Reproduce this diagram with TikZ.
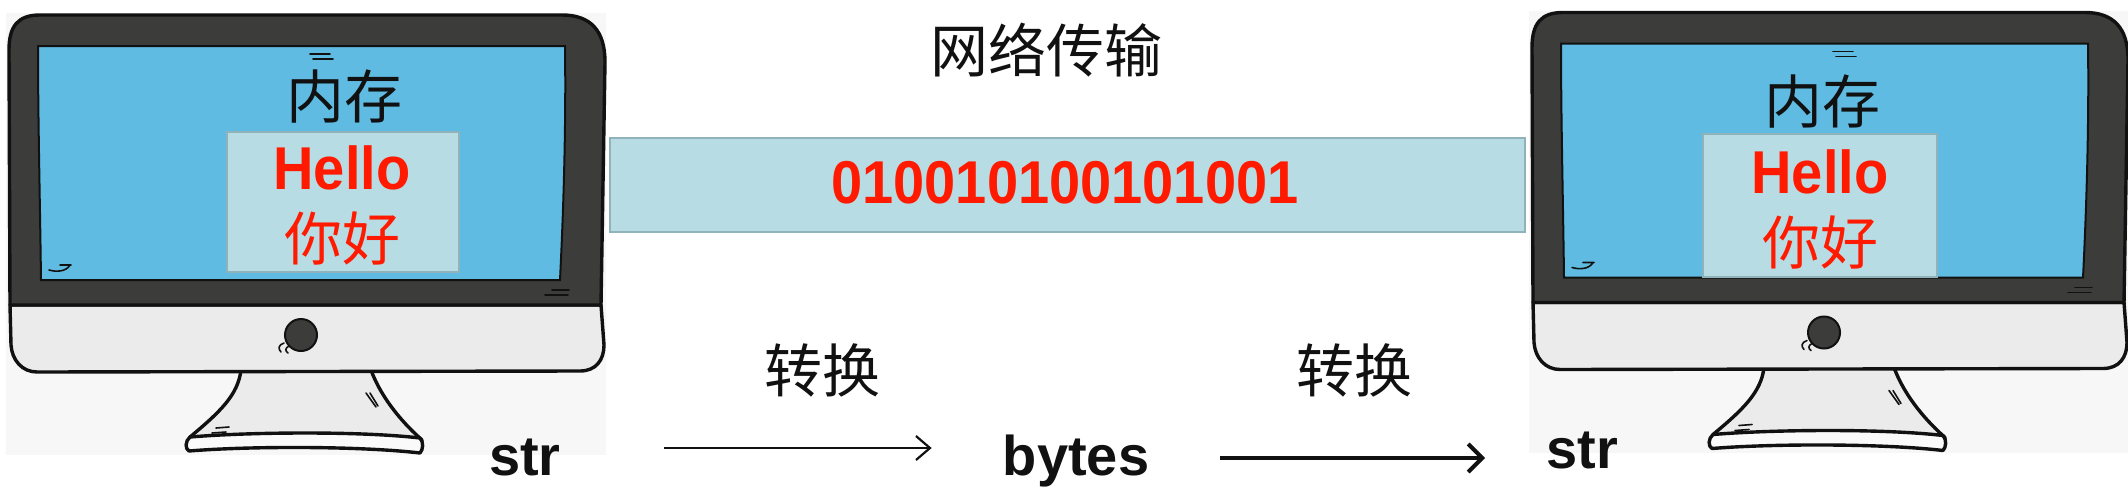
\documentclass[tikz,border=0pt]{standalone}
\usepackage{fontspec}
\setmainfont{Liberation Sans}
\newfontfamily\cjk{Noto Sans CJK SC}
\usetikzlibrary{arrows.meta}
\definecolor{bezel}{HTML}{3C3C3B}
\definecolor{chin}{HTML}{EBEBEB}
\definecolor{screenblue}{HTML}{5FBBE2}
\definecolor{paper}{HTML}{F7F7F7}
\definecolor{boxfill}{HTML}{B7DCE4}
\definecolor{boxline}{HTML}{8FB3B8}
\definecolor{redtext}{HTML}{FF1A00}
\definecolor{ink}{HTML}{111111}
\tikzset{
  cjktext/.style={inner sep=0pt,text=ink,font=\fontsize{58}{58}\selectfont\cjk},
  cjkred/.style={inner sep=0pt,text=redtext,font=\fontsize{58}{58}\selectfont\cjk},
  redbold/.style={inner sep=0pt,text=redtext,yscale=1.08,transform shape,font=\fontsize{56}{56}\selectfont\bfseries},
  blackbold/.style={inner sep=0pt,anchor=base,text=ink,font=\fontsize{56}{56}\selectfont\bfseries},
  bluebox/.style={draw=boxline,line width=1.5pt,fill=boxfill,inner sep=0pt},
  outline/.style={draw=ink,line width=3.4pt,line join=round},
  tick/.style={draw=ink,line width=1.6pt,line cap=round},
  arrowthin/.style={draw=ink,line width=2.2pt,-{Straight Barb[length=14pt,width=24pt]}},
  arrowthick/.style={draw=ink,line width=4pt,-{Straight Barb[length=14pt,width=28pt]}},
  monitor/.pic={
    \fill[paper] (6,13) rectangle (606,455);
    % stand
    \path[outline,fill=chin] (241,370) .. controls (238,395) and (220,412) .. (190,437)
      -- (422,440) .. controls (405,425) and (382,400) .. (371,370) -- cycle;
    % base
    \path[outline,fill=paper!60!white] (190,437) .. controls (250,432) and (360,431) .. (420,438)
      .. controls (424,442) and (423,450) .. (420,453)
      .. controls (360,446) and (250,446) .. (189,451)
      .. controls (185,449) and (185,441) .. (190,437) -- cycle;
    % chin
    \path[outline,fill=chin] (10,305) -- (11,345) .. controls (12,360) and (22,372) .. (37,372)
      -- (580,371) .. controls (596,371) and (604,360) .. (604,345) -- (601,305) -- cycle;
    % bezel
    \path[outline,fill=bezel] (10,305) -- (9,50) .. controls (9,26) and (18,15) .. (40,15)
      -- (562,15) .. controls (590,15) and (605,30) .. (605,62) -- (601,305) -- cycle;
    % screen
    \path[draw=ink,line width=2pt,fill=screenblue] (38,46) -- (565,46)
      .. controls (566,120) and (564,200) .. (560,280) -- (41,280) .. controls (40,200) and (38,120) .. (38,46) -- cycle;
    % button
    \path[draw=ink,line width=2pt,fill=bezel] (301,335) circle (16);
    % small sketch ticks
    \draw[tick] (310,54) -- (330,54) (313,59) -- (333,59);
    \draw[tick] (49,270) .. controls (56,272) and (66,272) .. (70,265) (60,265) -- (71,265);
    \draw[tick] (552,290) -- (569,290) (545,295) -- (568,295);
    \draw[tick] (216,428) -- (229,427) (212,433) -- (226,432);
    \draw[tick] (366,393) -- (376,407) (370,393) -- (378,406);
    \draw[tick] (284,343) .. controls (278,345) and (278,349) .. (281,352)
                (289,346) .. controls (285,348) and (285,351) .. (288,353);
  }
}
\begin{document}
\begin{tikzpicture}[x=1pt,y=-1pt]
\useasboundingbox (0,0) rectangle (2128,488);
\fill[white] (0,0) rectangle (2128,488);
\pic at (0,0) {monitor};
\pic at (1523,-2.5) {monitor};

% left memory
\node[bluebox,minimum width=232pt,minimum height=140pt] (boxL) at (343,202) {};
\node[cjktext] (memL) at (344,97) {内存};
\node[redbold] (helloL) at (342,168) {Hello};
\node[cjkred] (niL) at (342,238) {你好};

% right memory
\node[bluebox,minimum width=234pt,minimum height=143pt] (boxR) at (1820,205.5) {};
\node[cjktext] (memR) at (1822,102) {内存};
\node[redbold] (helloR) at (1820,172) {Hello};
\node[cjkred] (niR) at (1820,242) {你好};

% transport band
\node[bluebox,minimum width=915pt,minimum height=94pt] (band) at (1067.5,185) {};
\node[redbold] (bits) at (1065,183) {010010100101001};
\node[cjktext] (net) at (1046,50) {网络传输};

% conversion labels
\node[cjktext] (convA) at (822,370) {转换};
\node[cjktext] (convB) at (1354,370) {转换};

% data forms
\node[blackbold] (strL) at (525,475) {str};
\node[blackbold] (bytes) at (1076,475) {bytes};
\node[blackbold] (strR) at (1582,468) {str};

\coordinate (rowA) at (0,448);
\coordinate (rowB) at (0,458);
\draw[arrowthin,shorten <=103pt,shorten >=71pt] (strL.east |- rowA) -- (bytes.west |- rowA);
\draw[arrowthick,shorten <=71pt,shorten >=61pt] (bytes.east |- rowB) -- (strR.west |- rowB);
\end{tikzpicture}
\end{document}
